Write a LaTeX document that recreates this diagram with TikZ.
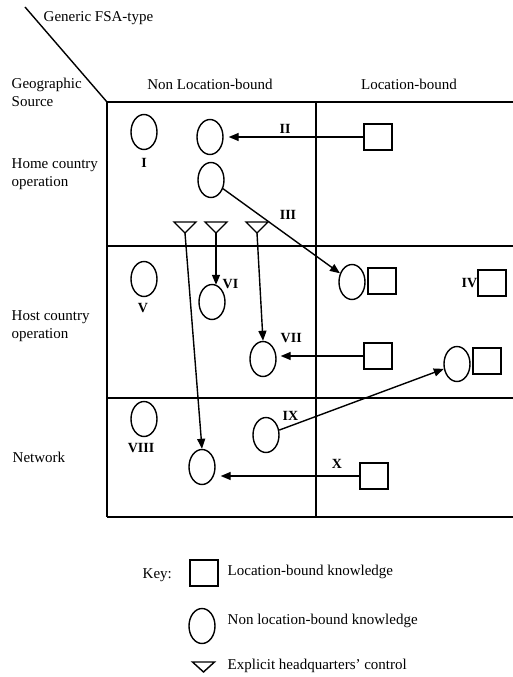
\documentclass[tikz,border=0pt]{standalone}
\usepackage{fontspec}
\setmainfont{Liberation Serif}
\usetikzlibrary{shapes.geometric,arrows.meta}
\begin{document}
\begin{tikzpicture}[x=1pt,y=-1pt,line width=1.4pt,
  txt/.style={inner sep=0pt,font=\fontsize{15}{18}\selectfont,align=left},
  lbl/.style={inner sep=0pt,font=\fontsize{14}{16}\selectfont\bfseries},
  nlb/.style={draw,ellipse,minimum width=26pt,minimum height=35pt,inner sep=0pt},
  lb/.style={draw,rectangle,minimum width=28pt,minimum height=26pt,inner sep=0pt},
  arr/.style={-{Triangle[length=10pt,width=8pt]}},
  hq/.style={line width=1.4pt,line join=miter}]
\useasboundingbox (0,0) rectangle (513,677);
% grid
\draw (25,7) -- (107,102);
\draw (107,102) -- (513,102);
\draw (107,246) -- (513,246);
\draw (107,398) -- (513,398);
\draw (107,517) -- (513,517);
\draw (107,102) -- (107,517);
\draw (316,102) -- (316,517);
% headings
\node[txt,anchor=west] (hg) at (43,18) {Generic FSA-type};
\node[txt,anchor=west] (hs) at (11,92.5) {Geographic\\Source};
\node[txt] (hn) at (210,84) {Non Location-bound};
\node[txt] (hl) at (409,84) {Location-bound};
\node[txt,anchor=west] (rh) at (11,174) {Home country\\operation};
\node[txt,anchor=west] (ro) at (11,326) {Host country\\operation};
\node[txt,anchor=west] (rn) at (12,457) {Network};
% home country
\node[nlb] (e1) at (144,132) {};
\node[lbl] (l1) at (144,163) {I};
\node[nlb] (e2) at (210,137) {};
\node[lb] (s2) at (378,137) {};
\node[lbl] (l2) at (285,129) {II};
\node[nlb] (e3) at (211,180) {};
\node[lbl] (l3) at (288,215) {III};
% triangles
\coordinate (t1) at (185,233);
\coordinate (t2) at (216,233);
\coordinate (t3) at (257,233);
\foreach \t in {t1,t2,t3}{\draw[hq] (\t) -- ++(-11,-11) -- ++(22,0) -- cycle;}
% host country
\node[nlb] (e5) at (144,279) {};
\node[lbl] (l5) at (143,308) {V};
\node[nlb] (e6) at (212,302) {};
\node[lbl,anchor=west] (l6) at (222,284) {VI};
\node[nlb] (e7) at (263,359) {};
\node[lbl,anchor=west] (l7) at (280,338) {VII};
\node[lb] (s7) at (378,356) {};
\node[nlb] (c3) at (352,282) {};
\node[lb] (c3s) at (382,281) {};
\node[lb] (s4) at (492,283) {};
\node[lbl,anchor=east] (l4) at (478,283) {IV};
\node[nlb] (c9) at (457,364) {};
\node[lb] (c9s) at (487,361) {};
% network
\node[nlb] (e8) at (144,419) {};
\node[lbl] (l8) at (141,448) {VIII};
\node[nlb] (e9) at (266,435) {};
\node[lbl,anchor=west] (l9) at (282,416) {IX};
\node[nlb] (e10) at (202,467) {};
\node[lb] (s10) at (374,476) {};
\node[lbl] (l10) at (337,464) {X};
% connectors
\draw[arr,shorten >=5pt] (s2.west) -- (e2.east);
\draw[arr] (e3) -- (c3);
\draw[arr,shorten >=-1pt] (t2) -- (t2 |- e6.north);
\draw[arr] (t3) -- (e7.north);
\draw[arr] (t1) -- (e10.north);
\draw[arr,shorten >=4pt] (s7.west) -- (s7.west -| e7.east);
\draw[arr] (e9) -- (c9);
\draw[arr,shorten >=5pt] (s10.west) -- (s10.west -| e10.east);
% key
\node[txt,anchor=west] (key) at (142,575) {Key:};
\node[lb] (ks) at (204,573) {};
\node[txt,anchor=west] (kst) at (227,572) {Location-bound knowledge};
\node[nlb] (kc) at (202,626) {};
\node[txt,anchor=west] (kct) at (227,621) {Non location-bound knowledge};
\coordinate (kt) at (203.5,672);
\draw[hq] (kt) -- ++(-11,-10) -- ++(22,0) -- cycle;
\node[txt,anchor=west] (ktt) at (227,666) {Explicit headquarters' control};
\end{tikzpicture}
\end{document}
